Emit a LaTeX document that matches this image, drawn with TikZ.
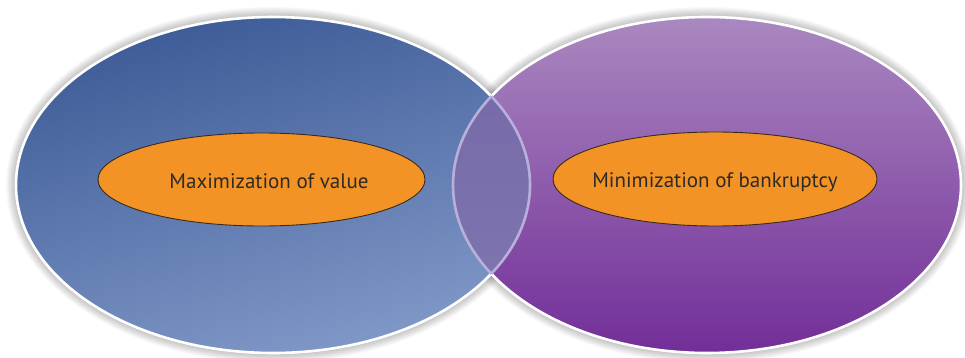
\documentclass[tikz,border=0pt]{standalone}
\usepackage{fontspec}
\setmainfont{PT Sans}
\usetikzlibrary{shapes.geometric}
\definecolor{bluetop}{HTML}{3D5B97}
\definecolor{bluemid}{HTML}{5A74AC}
\definecolor{bluebot}{HTML}{8199C8}
\definecolor{purtop}{HTML}{AA88C0}
\definecolor{purmid}{HTML}{9C71B6}
\definecolor{purbot}{HTML}{722E98}
\definecolor{lenstop}{HTML}{7468A6}
\definecolor{lensbot}{HTML}{8077B0}
\definecolor{lensline}{HTML}{B8B0DA}
\definecolor{orangefill}{HTML}{F39325}
\definecolor{orangeline}{HTML}{3A2A1A}
\definecolor{textdark}{HTML}{2E2A26}
\tikzset{
  orangeell/.style={ellipse, draw=orangeline, line width=0.9, fill=orangefill, inner sep=0pt},
  labeltext/.style={text=textdark, font=\fontsize{21}{24}\selectfont, inner sep=0pt, anchor=base},
  rim/.style={line width=2.6}
}
\begin{document}
\begin{tikzpicture}[x=1pt,y=-1pt]
\useasboundingbox (0,0) rectangle (965,358);
\fill[white] (0,0) rectangle (965,358);
% soft shadows
\foreach \i in {1,...,9} {
  \fill[black,opacity=0.028] (273,185) ellipse [x radius=257+\i*1.1, y radius=168+\i*1.1];
  \fill[black,opacity=0.028] (707,185) ellipse [x radius=254+\i*1.1, y radius=168+\i*1.1];
}
% big ellipses
\shade[top color=bluetop, middle color=bluemid, bottom color=bluebot, shading angle=15]
  (273,185) ellipse [x radius=257, y radius=168];
\shade[top color=purtop, middle color=purmid, bottom color=purbot]
  (707,185) ellipse [x radius=254, y radius=168];
% lens
\begin{scope}
  \clip (273,185) ellipse [x radius=257, y radius=168];
  \shade[top color=lenstop, bottom color=lensbot] (707,185) ellipse [x radius=254, y radius=168];
\end{scope}
% rims outside lens
\begin{scope}[even odd rule]
  \clip (0,0) rectangle (965,358) (707,185) ellipse [x radius=254, y radius=168];
  \draw[white, rim] (273,185) ellipse [x radius=257, y radius=168];
\end{scope}
\begin{scope}[even odd rule]
  \clip (0,0) rectangle (965,358) (273,185) ellipse [x radius=257, y radius=168];
  \draw[white, rim] (707,185) ellipse [x radius=254, y radius=168];
\end{scope}
% rims inside lens
\begin{scope}
  \clip (707,185) ellipse [x radius=254, y radius=168];
  \draw[lensline, rim] (273,185) ellipse [x radius=257, y radius=168];
\end{scope}
\begin{scope}
  \clip (273,185) ellipse [x radius=257, y radius=168];
  \draw[lensline, rim] (707,185) ellipse [x radius=254, y radius=168];
\end{scope}
% orange ellipses
\node[orangeell, minimum width=327, minimum height=93] (maxell) at (261.5,179.5) {};
\node[orangeell, minimum width=324, minimum height=94] (minell) at (715,179) {};
\node[labeltext] (maxtext) at (269,188) {Maximization of value};
\node[labeltext] (mintext) at (715,187.5) {Minimization of bankruptcy};
\end{tikzpicture}
\end{document}
